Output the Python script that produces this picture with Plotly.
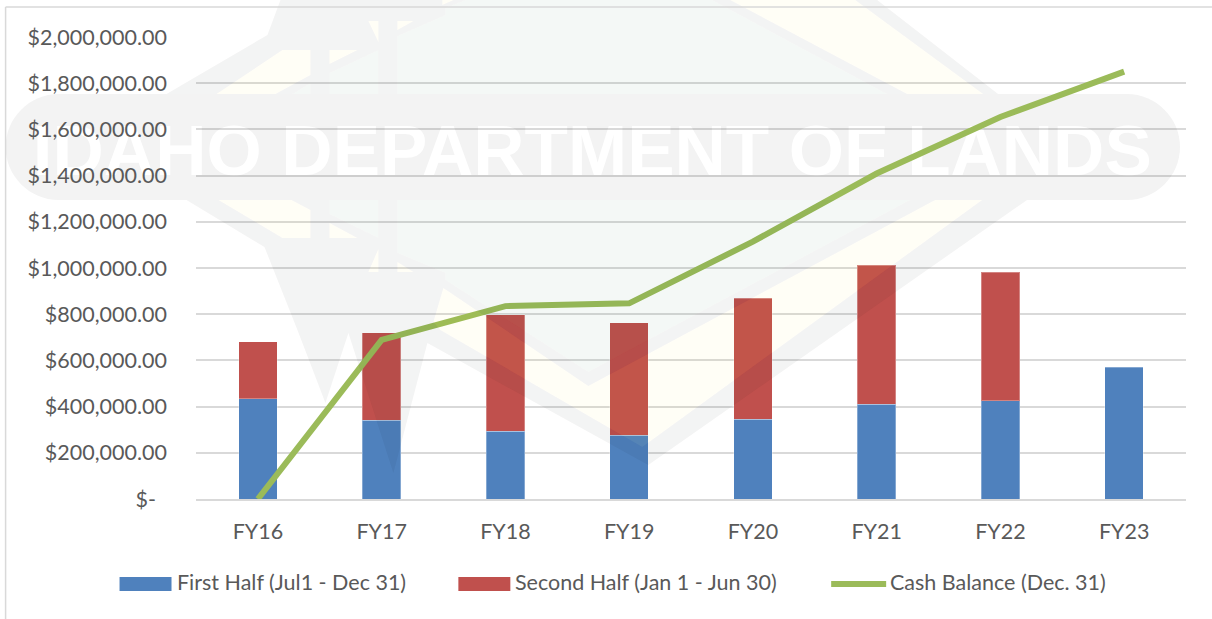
import plotly.graph_objects as go

categories = ["FY16", "FY17", "FY18", "FY19", "FY20", "FY21", "FY22", "FY23"]
first_half = [433000, 341000, 294000, 277000, 346000, 411000, 426000, 571000]
second_half = [247000, 378000, 504000, 485000, 523000, 602000, 555000, None]
cash_balance = [0, 689000, 835000, 847000, 1114000, 1409000, 1654000, 1850000]
y_ticks = [0, 200000, 400000, 600000, 800000, 1000000, 1200000, 1400000, 1600000, 1800000, 2000000]
y_labels = ["$-\u00a0\u00a0", "$200,000.00", "$400,000.00", "$600,000.00", "$800,000.00", "$1,000,000.00",
            "$1,200,000.00", "$1,400,000.00", "$1,600,000.00", "$1,800,000.00", "$2,000,000.00"]
series_names = ["First Half (Jul1 - Dec 31)", "Second Half (Jan 1 - Jun 30)", "Cash Balance (Dec. 31)"]
watermark_text = "IDAHO DEPARTMENT OF LANDS"

W, H = 1212, 619
L, R, T, B = 195.5, 26, 37, 120
BLUE, RED, GREEN = "#4F81BD", "#C0504D", "#9BBB59"
TXT = "#595959"
FONT = "Lato"
FS = 21.5


def fx(x):
    return (x - L) / (W - L - R)


def fy(y):
    return 1 - (y - T) / (H - T - B)


def poly(pts):
    return "M" + "L".join(f"{fx(x):.5f},{fy(y):.5f}" for x, y in pts) + "Z"


def paper_shape(path, fill, layer="above", **kw):
    return dict(type="path", xref="paper", yref="paper", path=path, fillcolor=fill,
                line=dict(width=0), layer=layer, **kw)


GRAY = "rgba(10,20,15,0.048)"
YEL = "rgba(255,235,0,0.035)"
GRN = "rgba(0,100,40,0.042)"

up_yellow = [
    [(730, 0), (855, 0), (983, 94), (907, 94)],
    [(216, 94), (282, 50), (310, 50), (310, 75), (275, 94)],
    [(329, 50), (357, 50), (329, 64)],
    [(368, 21), (378, 21), (378, 42)],
    [(397, 21), (413, 21), (397, 30)],
    [(442, 5), (453, 0), (442, 0)],
]
up_green = [
    [(397, 36), (445, 15), (445, 8), (465, 0), (712, 0), (887, 94), (397, 94)],
    [(329, 73), (378, 50), (378, 94), (329, 94)],
    [(292, 94), (310, 83), (310, 94)],
]
lo_yellow = [
    [(433, 322), (443, 288), (588, 386), (935, 200), (982, 200), (642, 447), (440, 330)],
    [(218, 200), (291, 200), (310, 210), (310, 238), (282, 238)],
    [(329, 223), (357, 238), (329, 238)],
    [(378, 249), (378, 272), (368, 272)],
    [(397, 262), (413, 272), (397, 272)],
]
lo_green = [
    [(397, 200), (910, 200), (588, 372), (445, 280), (445, 273), (397, 253)],
    [(329, 200), (378, 200), (378, 238), (329, 214)],
]
up_sil = [(280, 0), (267, 35), (166, 94), (998, 94), (877, 0)]
lo_sil = [(186, 200), (264, 247), (297, 330), (325, 403), (348, 333), (393, 473), (427, 343),
          (648, 465), (1027, 200)]

shapes = []
# grey pill with white lettering, behind the gridlines
x0, x1, y0, y1, r = 5, 1180, 94, 200, 53
pill = (f"M{fx(x0 + r)},{fy(y0)}L{fx(x1 - r)},{fy(y0)}"
        f"C{fx(x1 - r + 29)},{fy(y0)} {fx(x1)},{fy(y0 + 24)} {fx(x1)},{fy(y0 + r)}"
        f"C{fx(x1)},{fy(y1 - 24)} {fx(x1 - r + 29)},{fy(y1)} {fx(x1 - r)},{fy(y1)}"
        f"L{fx(x0 + r)},{fy(y1)}"
        f"C{fx(x0 + 24)},{fy(y1)} {fx(x0)},{fy(y1 - 24)} {fx(x0)},{fy(y0 + r)}"
        f"C{fx(x0)},{fy(y0 + 24)} {fx(x0 + 24)},{fy(y0)} {fx(x0 + r)},{fy(y0)}Z")
shapes.append(paper_shape(pill, "#f3f3f3", layer="below"))
shapes.append(dict(type="rect", xref="paper", yref="paper", x0=fx(37), x1=fx(1147), y0=fy(169), y1=fy(118),
                   line=dict(width=0), fillcolor="rgba(0,0,0,0)", layer="below",
                   label=dict(text=watermark_text, textposition="middle center",
                              font=dict(family="Liberation Sans", size=71, color="#ffffff", weight=700))))
# shield, tinted over the marks
sil_path = poly(up_sil) + poly(lo_sil) + "".join(poly(p) for p in up_yellow + up_green + lo_yellow + lo_green)
shapes.append(paper_shape(sil_path, GRAY))
shapes.append(paper_shape("".join(poly(p) for p in up_yellow + lo_yellow), YEL))
shapes.append(paper_shape("".join(poly(p) for p in up_green + lo_green), GRN))
# chart frame
for a, b in [((5, 7), (5, 619)), ((5, 7), (1212, 7))]:
    shapes.append(dict(type="line", xref="paper", yref="paper", x0=fx(a[0]), y0=fy(a[1]), x1=fx(b[0]), y1=fy(b[1]),
                       line=dict(color="#d9d9d9", width=1.5), layer="above"))
# legend keys
shapes.append(dict(type="rect", xref="paper", yref="paper", x0=fx(119), x1=fx(171), y0=fy(591), y1=fy(577),
                   fillcolor=BLUE, line=dict(width=0)))
shapes.append(dict(type="rect", xref="paper", yref="paper", x0=fx(458), x1=fx(510), y0=fy(591), y1=fy(577),
                   fillcolor=RED, line=dict(width=0)))
shapes.append(dict(type="line", xref="paper", yref="paper", x0=fx(831), x1=fx(886), y0=fy(584), y1=fy(584),
                   line=dict(color=GREEN, width=6)))

annotations = [
    dict(xref="paper", yref="paper", x=fx(x), y=fy(582), text=name, showarrow=False, xanchor="left", yanchor="middle",
         font=dict(family=FONT, size=FS, color=TXT))
    for x, name in zip([174, 513, 888], series_names)
]

fig = go.Figure()
fig.add_bar(x=categories, y=first_half, name=series_names[0], marker=dict(color=BLUE, line=dict(color="rgba(255,255,255,0.3)", width=1)))
fig.add_bar(x=categories, y=second_half, name=series_names[1], marker=dict(color=RED, line=dict(color="rgba(255,255,255,0.3)", width=1)))
fig.add_scatter(x=categories, y=cash_balance, name=series_names[2], mode="lines", line=dict(color=GREEN, width=6), cliponaxis=False)

fig.update_layout(
    width=W, height=H, autosize=False, barmode="stack", bargap=0.687, showlegend=False,
    margin=dict(l=L, r=R, t=T, b=B, pad=0),
    paper_bgcolor="white", plot_bgcolor="rgba(0,0,0,0)",
    font=dict(family=FONT, size=FS, color=TXT),
    shapes=shapes, annotations=annotations,
    xaxis=dict(showgrid=False, showline=True, linecolor="#d9d9d9", linewidth=1.5, ticks="", ticklabelstandoff=12,
               tickfont=dict(family=FONT, size=FS, color=TXT), fixedrange=True),
    yaxis=dict(range=[0, 2000000], tickvals=y_ticks, ticktext=y_labels, showgrid=True, gridcolor="rgba(0,0,0,0.15)",
               gridwidth=1.5, zeroline=False, showline=False, ticks="", ticklabelstandoff=28,
               tickfont=dict(family=FONT, size=FS, color=TXT), fixedrange=True),
)
fig.write_html("out.html", config=dict(displayModeBar=False),
               post_script="document.body.style.margin='0';")
